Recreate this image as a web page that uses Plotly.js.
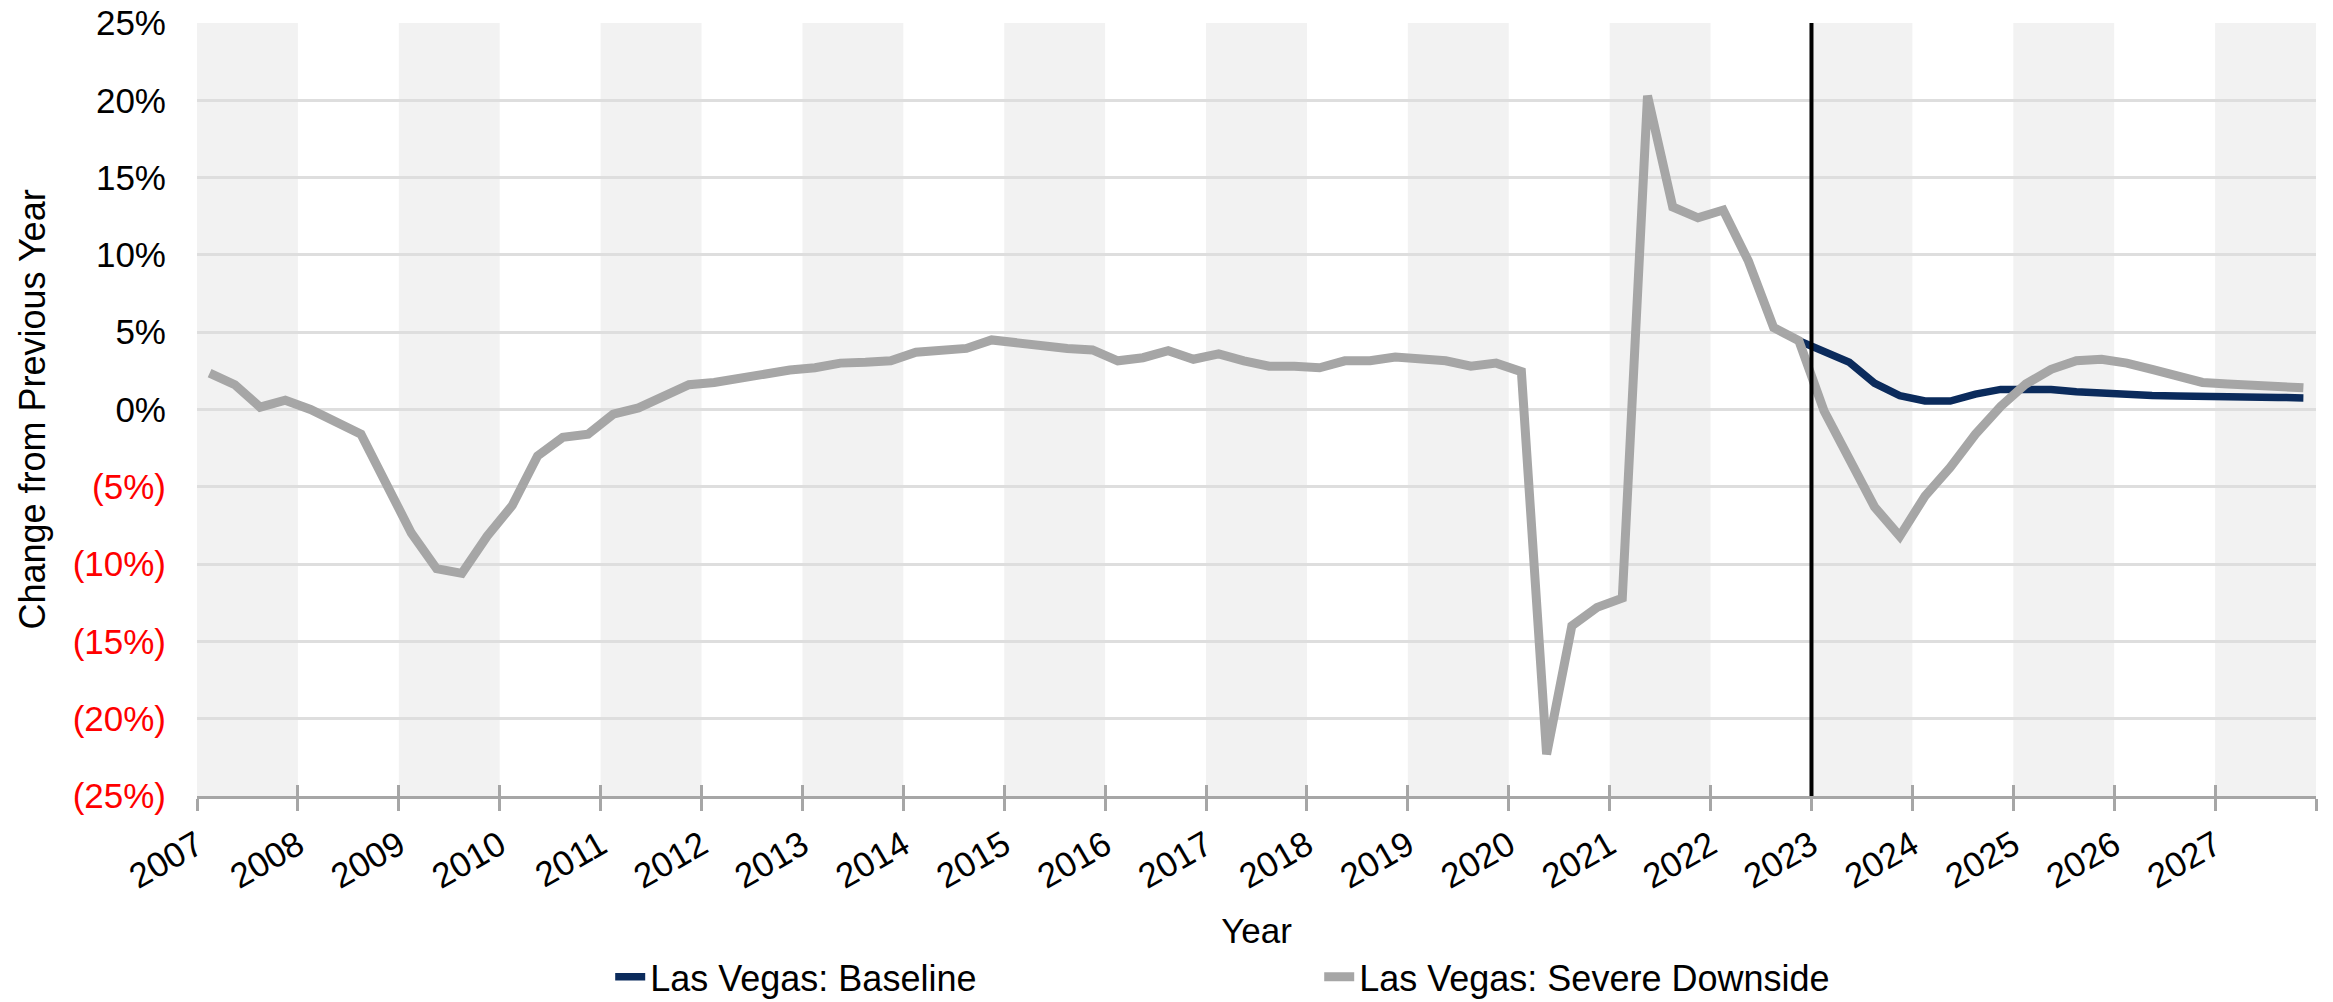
<!DOCTYPE html>
<html>
<head>
<meta charset="utf-8">
<script src="https://cdn.plot.ly/plotly-3.0.1.min.js"></script>
<style>
  html, body { margin: 0; padding: 0; background: #ffffff; }
  #chart { width: 2333px; height: 1002px; }
</style>
</head>
<body>
<div id="chart"></div>
<script>
// ---------------- DATA ----------------
const firstYear = 2007;
const yearLabels = [2007, 2008, 2009, 2010, 2011, 2012, 2013, 2014, 2015, 2016, 2017,
                    2018, 2019, 2020, 2021, 2022, 2023, 2024, 2025, 2026, 2027];
const yearTickVals = [2007, 2008, 2009, 2010, 2011, 2012, 2013, 2014, 2015, 2016, 2017,
                      2018, 2019, 2020, 2021, 2022, 2023, 2024, 2025, 2026, 2027, 2028];
const quarterNames = ['Q1', 'Q2', 'Q3', 'Q4'];

// Las Vegas: Severe Downside, quarterly % change from previous year, 2007 Q1 .. 2027 Q4
const severeDownside = [
   2.35,  1.6,   0.15,  0.6,     // 2007
   0.0,  -0.85, -1.6,  -4.8,     // 2008
  -8.0, -10.3, -10.6,  -8.2,     // 2009
  -6.2,  -3.0,  -1.8,  -1.6,     // 2010
  -0.3,   0.1,   0.9,   1.6,     // 2011
   1.75,  2.0,   2.35,  2.55,    // 2012
   2.7,   3.0,   3.05,  3.15,    // 2013
   3.7,   3.8,   3.95,  4.5,     // 2014
   4.3,   4.05,  3.95,  3.85,    // 2015
   3.15,  3.35,  3.8,   3.25,    // 2016
   3.6,   3.15,  2.8,   2.8,     // 2017
   2.7,   3.15,  3.15,  3.4,     // 2018
   3.3,   3.15,  2.8,   3.0,     // 2019
   2.45, -22.3, -14.0, -12.8,    // 2020
 -12.2,  20.3,  13.1,  12.4,     // 2021
  12.9,   9.6,   5.3,   4.45,    // 2022
  -0.1,  -3.3,  -6.3,  -8.2,     // 2023
  -5.6,  -3.75, -1.6,   0.2,     // 2024
   1.65,  2.6,   3.15,  3.25,    // 2025
   3.0,   2.6,   2.1,   1.75,    // 2026
   1.65,  1.58,  1.48,  1.4      // 2027
];

// Las Vegas: Baseline forecast, 2022 Q4 .. 2027 Q4
const baselineStart = { year: 2022, quarter: 4 };
const baselineForecast = [
   4.45,                         // 2022 Q4
   3.75,  3.05,  1.7,   0.9,     // 2023
   0.55,  0.55,  1.0,   1.3,     // 2024
   1.3,   1.3,   1.15,  1.05,    // 2025
   0.98,  0.9,   0.88,  0.88,    // 2026
   0.8,   0.8,   0.78,  0.75     // 2027
];

const forecastLine = 2023;
const yTickVals = [25, 20, 15, 10, 5, 0, -5, -10, -15, -20, -25];

// ---------------- BUILD ----------------
const xQuarter = severeDownside.map((_, i) => firstYear + (i + 0.5) / 4);
const startIdx = (baselineStart.year - firstYear) * 4 + (baselineStart.quarter - 1);
const baseline = severeDownside.map((_, i) =>
  i < startIdx ? null : baselineForecast[i - startIdx]);
const hoverLabels = severeDownside.map((_, i) =>
  (firstYear + Math.floor(i / 4)) + ' ' + quarterNames[i % 4]);

const yTickText = yTickVals.map(v => v < 0
  ? '<span style="color:#ff0000">(' + Math.abs(v) + '%)</span>'
  : v + '%');
const xTickText = yearTickVals.map(v => yearLabels.indexOf(v) >= 0 ? String(v) : '');

const shapes = [];
yearLabels.forEach((y, k) => {
  if (k % 2 === 0) {
    shapes.push({
      type: 'rect', xref: 'x', yref: 'paper',
      x0: y, x1: y + 1, y0: 0, y1: 1,
      fillcolor: '#f2f2f2', line: { width: 0 }, layer: 'below'
    });
  }
});
shapes.push({
  type: 'line', xref: 'x', yref: 'paper',
  x0: forecastLine, x1: forecastLine, y0: 0, y1: 1,
  line: { color: '#000000', width: 4 }, layer: 'above'
});

const font = 'Liberation Sans, Arial, sans-serif';

const traces = [
  {
    type: 'scatter', mode: 'lines', name: 'Las Vegas: Baseline',
    x: xQuarter, y: baseline, text: hoverLabels,
    line: { color: '#0b2b5c', width: 7.5 },
    connectgaps: false
  },
  {
    type: 'scatter', mode: 'lines', name: 'Las Vegas: Severe Downside',
    x: xQuarter, y: severeDownside, text: hoverLabels,
    line: { color: '#a6a6a6', width: 9 }
  },
  {
    type: 'scatter', mode: 'lines', x: [firstYear], y: [null],
    xaxis: 'x2', yaxis: 'y', showlegend: false, hoverinfo: 'skip'
  }
];

const layout = {
  width: 2333, height: 1002,
  margin: { l: 197, r: 17, t: 23, b: 206, autoexpand: false },
  paper_bgcolor: '#ffffff', plot_bgcolor: '#ffffff',
  font: { family: font, size: 35, color: '#000000' },
  showlegend: true,
  legend: {
    orientation: 'h', x: 0.195, xanchor: 'left',
    y: -0.234, yanchor: 'middle',
    font: { family: font, size: 36, color: '#000000' },
    entrywidth: 664, entrywidthmode: 'pixels',
    bgcolor: 'rgba(0,0,0,0)', traceorder: 'normal'
  },
  xaxis: {
    range: [firstYear, 2028], type: 'linear',
    tickmode: 'array', tickvals: yearTickVals, ticktext: xTickText,
    tickangle: -30, tickfont: { family: font, size: 35 },
    ticks: 'outside', ticklen: 12, tickwidth: 3, tickcolor: '#a6a6a6',
    showline: true, linecolor: '#a6a6a6', linewidth: 3,
    showgrid: false, zeroline: false, automargin: false,
    title: { text: 'Year', font: { family: font, size: 35 }, standoff: 24 }
  },
  xaxis2: {
    overlaying: 'x', anchor: 'y', side: 'bottom', matches: 'x',
    range: [firstYear, 2028], type: 'linear',
    tickmode: 'array', tickvals: yearTickVals,
    ticks: 'inside', ticklen: 11, tickwidth: 3, tickcolor: '#a6a6a6',
    showticklabels: false, showline: false, showgrid: false, zeroline: false
  },
  yaxis: {
    range: [-25, 25], tickmode: 'array', tickvals: yTickVals, ticktext: yTickText,
    tickfont: { family: font, size: 35, color: '#000000' },
    ticks: '', ticklabelstandoff: 30,
    showgrid: true, gridcolor: '#dedede', gridwidth: 3,
    zeroline: false, showline: false, automargin: false,
    title: { text: 'Change from Previous Year', font: { family: font, size: 36 }, standoff: 16 }
  },
  shapes: shapes
};

Plotly.newPlot('chart', traces, layout, { displayModeBar: false, staticPlot: true });
</script>
</body>
</html>
